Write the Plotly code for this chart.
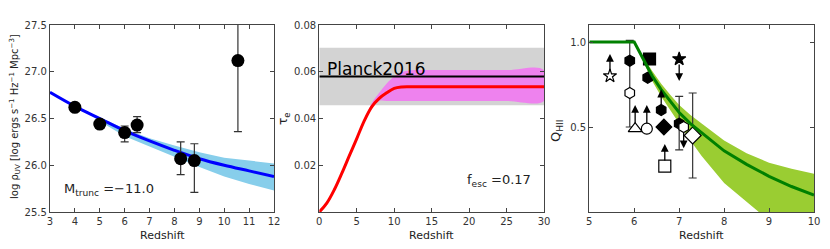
import plotly.graph_objects as go

# ---------------- Panel 1: UV luminosity density ----------------
uv_z = [4.0, 5.0, 6.0, 6.5, 8.25, 8.8, 10.55]
uv_rho = [26.62, 26.44, 26.35, 26.43, 26.07, 26.05, 27.12]
uv_err_up = [0.03, 0.03, 0.07, 0.09, 0.18, 0.18, 0.80]
uv_err_dn = [0.03, 0.03, 0.10, 0.08, 0.17, 0.34, 0.76]

uv_model_z = [3, 4, 5, 6, 7, 8, 9, 10, 11, 12]
uv_model = [26.78, 26.63, 26.50, 26.37, 26.26, 26.16, 26.07, 26.00, 25.94, 25.88]
uv_band_z = [4.5, 5, 6, 7, 8, 9, 10, 11, 12]
uv_band_hi = [26.56, 26.51, 26.39, 26.29, 26.21, 26.14, 26.08, 26.05, 26.02]
uv_band_lo = [26.56, 26.47, 26.31, 26.20, 26.09, 25.98, 25.88, 25.80, 25.73]

# ---------------- Panel 2: optical depth ----------------
tau_z = [0, 1, 2, 3, 4, 5, 6, 7, 8, 9, 10, 11, 12, 15, 20, 25, 30]
tau_e = [0.0, 0.0038, 0.0095, 0.0165, 0.024, 0.0314, 0.039, 0.045,
         0.0486, 0.051, 0.0529, 0.0535, 0.0536, 0.0536, 0.0536, 0.0536, 0.0536]
tau_band_z = [6, 7, 8, 9, 10, 11, 12, 13, 15, 20, 25, 30]
tau_band_hi = [0.039, 0.0465, 0.051, 0.055, 0.058, 0.0598, 0.0605, 0.0607,
               0.0607, 0.0607, 0.0607, 0.0607]
tau_band_lo = [0.039, 0.0445, 0.0475, 0.0475, 0.0475, 0.0475, 0.0475, 0.0475,
               0.0475, 0.0475, 0.0475, 0.0475]
planck_z = [0, 30]
planck_tau = 0.058
planck_lo = 0.0457
planck_hi = 0.0703

# ---------------- Panel 3: ionized fraction ----------------
q_model_z = [5.0, 6.0, 6.2, 6.4, 6.6, 6.8, 7.0, 7.25, 7.5, 8.0, 8.5, 9.0, 9.5, 10.0]
q_model = [1.0, 1.0, 0.90, 0.80, 0.72, 0.65, 0.585, 0.52, 0.465, 0.36, 0.28, 0.21, 0.15, 0.10]
q_band_z = [6.0, 6.2, 6.4, 6.6, 6.8, 7.0, 7.25, 7.5, 8.0, 8.5, 9.0, 9.5, 10.0]
q_band_hi = [1.0, 0.91, 0.83, 0.755, 0.69, 0.63, 0.57, 0.52, 0.42, 0.345, 0.29, 0.255, 0.225]
q_band_lo = [1.0, 0.88, 0.77, 0.68, 0.60, 0.52, 0.42, 0.33, 0.17, 0.06, -0.05, -0.14, -0.24]

obs_z = [5.46, 5.9, 5.9, 6.02, 6.3, 6.28, 6.34, 6.6, 6.66, 6.68, 7.0, 7.0, 7.1, 7.3]
obs_q = [0.80, 0.89, 0.70, 0.49, 0.79, 0.49, 0.90, 0.60, 0.50, 0.27, 0.90, 0.52, 0.50, 0.45]
obs_symbol = ["star", "hexagon", "hexagon", "triangle-up", "hexagon", "circle", "square",
              "hexagon", "diamond", "square", "star", "hexagon", "hexagon", "diamond"]
obs_filled = [False, True, False, False, True, False, True,
              True, True, False, True, True, False, False]
obs_size = [10, 11, 11, 12, 11, 11, 12, 11, 12, 12, 10, 11, 11, 13]
obs_err_up = [0, 0.12, 0.19, 0, 0, 0, 0, 0, 0, 0, 0, 0.16, 0, 0.25]
obs_err_dn = [0, 0.0, 0.20, 0, 0, 0, 0, 0, 0, 0, 0, 0.155, 0, 0.25]
obs_arrow_tip = [0.93, None, None, 0.63, None, 0.63, None, 0.72, None, 0.40,
                 0.77, None, 0.375, None]

# page body has an 8px margin: convert screen pixels to paper coords
W, H, OFF = 830, 249, 8


def px(X):
    return (X - OFF) / W


def py(Y):
    return 1 - (Y - OFF) / H


fig = go.Figure()

# Panel 1
fig.add_trace(go.Scatter(x=uv_band_z + uv_band_z[::-1], y=uv_band_hi + uv_band_lo[::-1],
                         fill="toself", fillcolor="#87ceeb", line=dict(width=0),
                         mode="lines", xaxis="x", yaxis="y", hoverinfo="skip"))
fig.add_trace(go.Scatter(x=uv_model_z, y=uv_model, mode="lines",
                         line=dict(color="#0000ff", width=3, shape="spline"),
                         xaxis="x", yaxis="y"))
fig.add_trace(go.Scatter(x=uv_z, y=uv_rho, mode="markers",
                         marker=dict(color="black", size=13, opacity=1),
                         error_y=dict(type="data", symmetric=False, array=uv_err_up,
                                      arrayminus=uv_err_dn, color="#333", thickness=1.2, width=4),
                         xaxis="x", yaxis="y"))

# Panel 2
fig.add_trace(go.Scatter(x=[planck_z[0], planck_z[1], planck_z[1], planck_z[0]],
                         y=[planck_hi, planck_hi, planck_lo, planck_lo],
                         fill="toself", fillcolor="#d3d3d3", line=dict(width=0),
                         mode="lines", xaxis="x2", yaxis="y2", hoverinfo="skip"))
fig.add_trace(go.Scatter(x=tau_band_z + tau_band_z[::-1], y=tau_band_hi + tau_band_lo[::-1],
                         fill="toself", fillcolor="#ee82ee", line=dict(width=0, shape="spline"),
                         mode="lines", xaxis="x2", yaxis="y2", hoverinfo="skip"))
fig.add_trace(go.Scatter(x=planck_z, y=[planck_tau, planck_tau], mode="lines",
                         line=dict(color="black", width=2), xaxis="x2", yaxis="y2"))
fig.add_trace(go.Scatter(x=tau_z, y=tau_e, mode="lines",
                         line=dict(color="#ff0000", width=3, shape="spline"),
                         xaxis="x2", yaxis="y2"))

# Panel 3
fig.add_trace(go.Scatter(x=q_band_z + q_band_z[::-1], y=q_band_hi + q_band_lo[::-1],
                         fill="toself", fillcolor="#9acd32", line=dict(width=0),
                         mode="lines", xaxis="x3", yaxis="y3", hoverinfo="skip"))
fig.add_trace(go.Scatter(x=obs_z, y=obs_q, mode="markers",
                         marker=dict(size=1, color="rgba(0,0,0,0)"),
                         error_y=dict(type="data", symmetric=False, array=obs_err_up,
                                      arrayminus=obs_err_dn, color="#333", thickness=1.2, width=4),
                         xaxis="x3", yaxis="y3"))
fig.add_trace(go.Scatter(x=obs_z, y=obs_q, mode="markers",
                         marker=dict(symbol=obs_symbol, size=obs_size, opacity=1,
                                     color=["black" if f else "white" for f in obs_filled],
                                     line=dict(color="black", width=1.2)),
                         xaxis="x3", yaxis="y3"))
fig.add_trace(go.Scatter(x=q_model_z, y=q_model, mode="lines",
                         line=dict(color="#008000", width=3), xaxis="x3", yaxis="y3"))

for z, q, tip in zip(obs_z, obs_q, obs_arrow_tip):
    if tip is None:
        continue
    fig.add_annotation(x=z, y=tip, ax=z, ay=q, xref="x3", yref="y3", axref="x3", ayref="y3",
                       text="", showarrow=True, arrowhead=2, arrowsize=1.2, arrowwidth=1.3,
                       arrowcolor="black", startstandoff=4)

axis_common = dict(showline=True, linecolor="#444", linewidth=1.3, mirror="allticks",
                   ticks="inside", ticklen=4, tickcolor="#444", tickwidth=1,
                   showgrid=False, zeroline=False, automargin=False,
                   tickfont=dict(family="DejaVu Sans", size=10, color="#333"))

yd = [py(212), py(25)]
fig.update_layout(
    width=W, height=H, margin=dict(l=0, r=0, t=0, b=0),
    paper_bgcolor="white", plot_bgcolor="white", showlegend=False,
    font=dict(family="DejaVu Sans", color="#222"),
    xaxis=dict(axis_common, domain=[px(50), px(274)], range=[3, 12], dtick=1, anchor="y"),
    yaxis=dict(axis_common, domain=yd, range=[25.5, 27.5], tickvals=[25.5, 26.0, 26.5, 27.0, 27.5],
               tickformat=".1f", anchor="x"),
    xaxis2=dict(axis_common, domain=[px(319.3), px(544)], range=[0, 30], dtick=5, anchor="y2"),
    yaxis2=dict(axis_common, domain=yd, range=[0, 0.08], tickvals=[0.02, 0.04, 0.06, 0.08],
                tickformat=".2f", anchor="x2"),
    xaxis3=dict(axis_common, domain=[px(589.3), px(814)], range=[5, 10], dtick=1, anchor="y3"),
    yaxis3=dict(axis_common, domain=yd, range=[0, 1.1], tickvals=[0.5, 1.0],
                tickformat=".1f", anchor="x3"),
)

# text labels
fig.add_annotation(x=3.5, y=25.74, xref="x", yref="y", text="M<sub>trunc</sub> =−11.0",
                   showarrow=False, xanchor="left", yanchor="middle",
                   font=dict(size=13, color="#222"))
fig.add_annotation(x=0.75, y=0.0612, xref="x2", yref="y2", text="Planck2016",
                   showarrow=False, xanchor="left", yanchor="middle",
                   font=dict(size=17, color="black"))
fig.add_annotation(x=24, y=0.0135, xref="x2", yref="y2", text="f<sub>esc</sub> =0.17",
                   showarrow=False, xanchor="center", yanchor="middle",
                   font=dict(size=13, color="#222"))

for xc in [(50 + 274) / 2, (319.3 + 544) / 2, (589.3 + 814) / 2]:
    fig.add_annotation(x=px(xc), y=py(235), xref="paper", yref="paper", text="Redshift",
                       showarrow=False, xanchor="center", yanchor="middle",
                       font=dict(size=11, color="#222"))

fig.add_annotation(x=px(15), y=py(117), xref="paper", yref="paper",
                   text="log ρ<sub>UV</sub> [log ergs s<sup>−1</sup> Hz<sup>−1</sup> Mpc<sup>−3</sup>]",
                   showarrow=False, textangle=-90, xanchor="center", yanchor="middle",
                   font=dict(size=10, color="#222"))
fig.add_annotation(x=px(284), y=py(119), xref="paper", yref="paper",
                   text="τ<sub>e</sub>", showarrow=False, textangle=-90,
                   xanchor="center", yanchor="middle", font=dict(size=12, color="#222"))
fig.add_annotation(x=px(557), y=py(131), xref="paper", yref="paper",
                   text="Q<sub>HII</sub>", showarrow=False, textangle=-90,
                   xanchor="center", yanchor="middle", font=dict(size=13, color="#222"))

fig.write_html("out.html")
